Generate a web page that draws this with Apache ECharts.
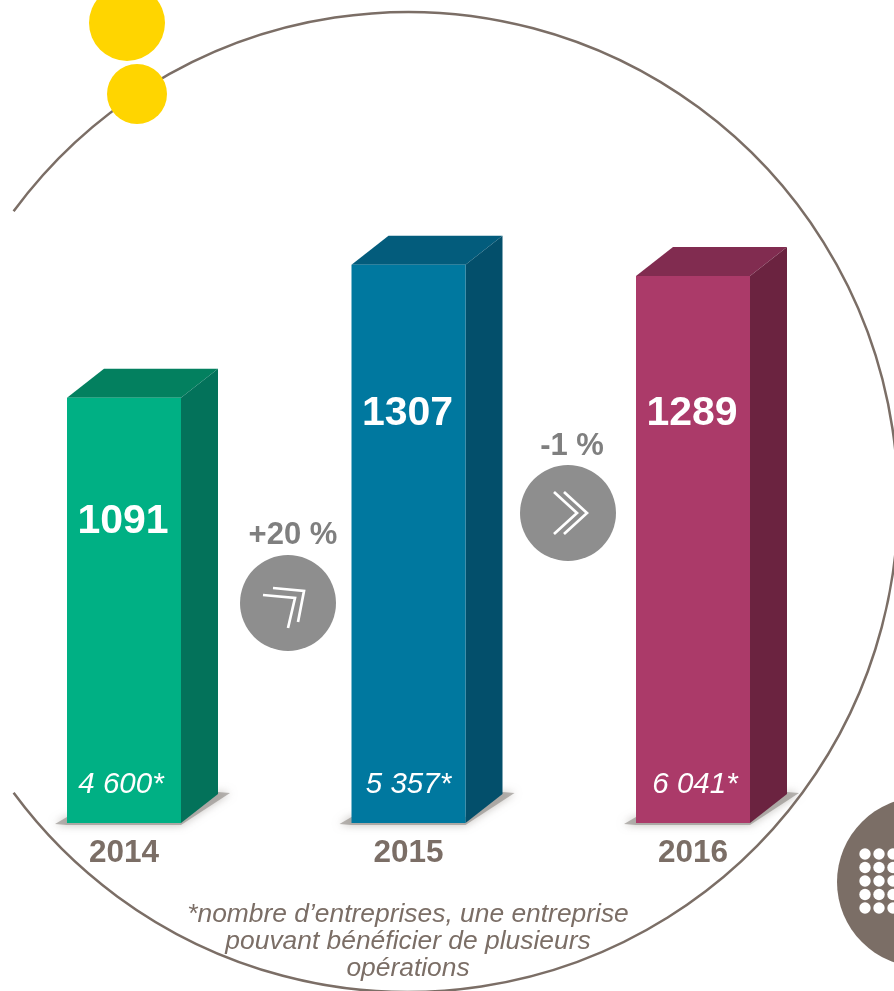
<!DOCTYPE html>
<html><head><meta charset="utf-8">
<style>html,body{margin:0;padding:0;background:#fff}#c{width:894px;height:991px}</style>
<script src="https://cdn.jsdelivr.net/npm/echarts@6/dist/echarts.min.js"></script>
</head><body><div id="c"></div>
<script>
const years = ['2014', '2015', '2016'];
const operations = [1091, 1307, 1289];
const companies = ['4 600*', '5 357*', '6 041*'];
const changes = ['+20 %', '-1 %'];
const footnote = ['*nombre d\u2019entreprises, une entreprise', 'pouvant b\u00e9n\u00e9ficier de plusieurs', 'op\u00e9rations'];

const frontColors = ['#00b084', '#00789f', '#ab3a69'];
const sideColors = ['#03725a', '#034f6b', '#6b2340'];
const topColors = ['#03805f', '#035c7c', '#812c50'];
const labelDrop = [124, 149, 138];
const italicShift = [-2, 1, 3];
const FONT = '"Liberation Sans", Arial, sans-serif';
const BROWN = '#7b6e66';
const DX = 37, DY = 29, BAR_W = 114;

const chart = echarts.init(document.getElementById('c'), null, {renderer: 'canvas'});

function renderBar(params, api) {
  const i = params.dataIndex;
  const top = api.coord([api.value(0), api.value(1)]);
  const base = api.coord([api.value(0), 400]);
  const l = top[0] - BAR_W / 2, r = l + BAR_W, t = top[1], b = base[1];
  return {type: 'group', children: [
    {type: 'polygon', silent: true,
      shape: {points: [[l - 12, b + 1], [l, b + 2], [r, b + 2], [r + DX + 12, b - DY - 1], [r + DX, b - DY - 2], [r, b - 6], [l, b - 6]]},
      style: {fill: 'rgba(140,135,130,0.6)', shadowBlur: 8, shadowColor: 'rgba(140,135,130,0.9)'}},
    {type: 'polygon', shape: {points: [[l, t], [l + DX, t - DY], [r + DX, t - DY], [r, t]]}, style: {fill: topColors[i]}},
    {type: 'polygon', shape: {points: [[r, t], [r + DX, t - DY], [r + DX, b - DY], [r, b]]}, style: {fill: sideColors[i]}},
    {type: 'rect', shape: {x: l, y: t, width: BAR_W, height: b - t}, style: {fill: frontColors[i]}},
    {type: 'text', style: {text: String(operations[i]), x: top[0] - 1, y: t + labelDrop[i], align: 'center', verticalAlign: 'middle',
      fill: '#fff', font: 'bold 41px ' + FONT}},
    {type: 'text', style: {text: companies[i], x: top[0] - 1 + italicShift[i], y: b - 38, align: 'center', verticalAlign: 'middle',
      fill: '#fff', font: 'italic 29.5px ' + FONT}}
  ]};
}

const graphics = [];
const cx = 408, cy = 502, R = 490;
graphics.push({type: 'arc', z: 1, silent: true,
  shape: {cx, cy, r: R, startAngle: 216.4 * Math.PI / 180, endAngle: (360 + 143.6) * Math.PI / 180, clockwise: true},
  style: {fill: null, stroke: BROWN, lineWidth: 2.5}});
graphics.push({type: 'circle', z: 2, shape: {cx: 127, cy: 23, r: 38}, style: {fill: '#ffd500'}});
graphics.push({type: 'circle', z: 2, shape: {cx: 137, cy: 94, r: 30}, style: {fill: '#ffd500'}});
graphics.push({type: 'circle', z: 2, shape: {cx: 922, cy: 882, r: 85}, style: {fill: BROWN}});
[865, 879, 893].forEach(x => [854, 867.5, 881, 894.5, 908].forEach(y => {
  graphics.push({type: 'circle', z: 3, shape: {cx: x, cy: y, r: 5.7}, style: {fill: '#fff'}});
}));
const chev = (pts) => ({type: 'polyline', z: 4, shape: {points: pts}, style: {fill: null, stroke: '#fff', lineWidth: 2.7}});
graphics.push({type: 'circle', z: 3, shape: {cx: 288, cy: 603, r: 48}, style: {fill: '#8e8e8e'}});
graphics.push(chev([[273, 588], [304, 591], [298, 622]]));
graphics.push(chev([[263, 595], [295, 598], [288, 628]]));
graphics.push({type: 'circle', z: 3, shape: {cx: 568, cy: 513, r: 48}, style: {fill: '#8e8e8e'}});
graphics.push(chev([[564, 492], [587, 513], [564, 534]]));
graphics.push(chev([[554, 492], [577, 513], [554, 534]]));
graphics.push({type: 'text', z: 5, style: {text: changes[0], x: 293, y: 535, align: 'center', verticalAlign: 'middle', fill: '#7f7f7f', font: 'bold 31px ' + FONT}});
graphics.push({type: 'text', z: 5, style: {text: changes[1], x: 572, y: 446, align: 'center', verticalAlign: 'middle', fill: '#7f7f7f', font: 'bold 31px ' + FONT}});
footnote.forEach((line, i) => graphics.push({type: 'text', z: 5, style: {text: line, x: 408, y: 915 + i * 27, align: 'center', verticalAlign: 'middle', fill: BROWN, font: 'italic 26.4px ' + FONT}}));

chart.setOption({
  animation: false,
  backgroundColor: '#fff',
  grid: {left: 124, width: 569, top: 23, height: 800},
  xAxis: {type: 'category', data: years, boundaryGap: false, axisLine: {show: false}, axisTick: {show: false},
    axisLabel: {color: BROWN, fontFamily: FONT, fontWeight: 'bold', fontSize: 31.5, margin: 14, interval: 0}},
  yAxis: {type: 'value', min: 400, max: 1700, show: false, splitLine: {show: false}},
  series: [{type: 'custom', z: 4, clip: false, renderItem: renderBar,
    encode: {x: 0, y: 1}, data: years.map((y, i) => [y, operations[i]])}],
  graphic: {elements: graphics}
});
</script></body></html>
